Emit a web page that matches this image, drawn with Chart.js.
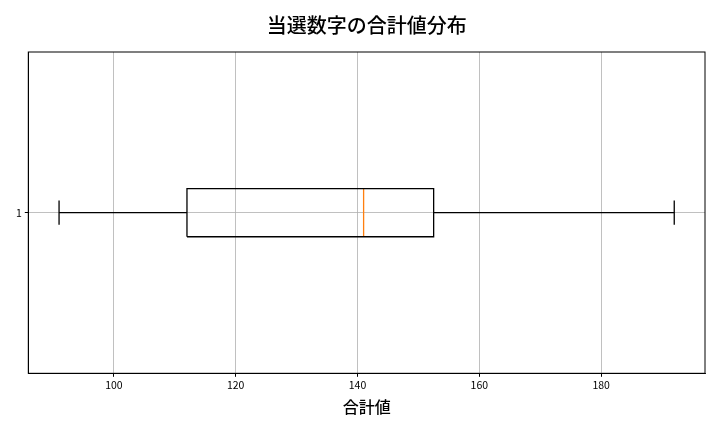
<!DOCTYPE html>
<html lang="ja">
<head>
<meta charset="utf-8">
<title>当選数字の合計値分布</title>
<script src="https://cdn.jsdelivr.net/npm/chart.js@4/dist/chart.umd.min.js"></script>
<style>
  html, body { margin: 0; padding: 0; background: #fff; }
  #wrap { width: 720px; height: 432px; }
</style>
</head>
<body>
<div id="wrap"><canvas id="box-chart" width="720" height="432"></canvas></div>
<script>
// boxplot summary
const CATEGORIES = [1];
const WHISKER_LOW = [91];
const Q1 = [112];
const MEDIAN = [141];
const Q3 = [152.5];
const WHISKER_HIGH = [192];
const X_TICKS = [100, 120, 140, 160, 180];
const Y_TICKS = [1];

const FONT = "'Noto Sans CJK JP', 'Noto Sans', sans-serif";
const BOX_HALF = 0.075;
const CAP_HALF = 0.0375;

function lineSet(points, color) {
  return {
    data: points,
    showLine: true,
    borderColor: color,
    borderWidth: 1.3,
    pointRadius: 0,
    spanGaps: false,
    fill: false,
  };
}

const boxPts = [];
const medianPts = [];
const whiskerPts = [];
const capPts = [];
CATEGORIES.forEach((c, i) => {
  boxPts.push(
    { x: Q1[i], y: c - BOX_HALF }, { x: Q3[i], y: c - BOX_HALF },
    { x: Q3[i], y: c + BOX_HALF }, { x: Q1[i], y: c + BOX_HALF },
    { x: Q1[i], y: c - BOX_HALF }, { x: null, y: null }
  );
  medianPts.push({ x: MEDIAN[i], y: c - BOX_HALF }, { x: MEDIAN[i], y: c + BOX_HALF }, { x: null, y: null });
  whiskerPts.push(
    { x: WHISKER_LOW[i], y: c }, { x: Q1[i], y: c }, { x: null, y: null },
    { x: Q3[i], y: c }, { x: WHISKER_HIGH[i], y: c }, { x: null, y: null }
  );
  capPts.push(
    { x: WHISKER_LOW[i], y: c - CAP_HALF }, { x: WHISKER_LOW[i], y: c + CAP_HALF }, { x: null, y: null },
    { x: WHISKER_HIGH[i], y: c - CAP_HALF }, { x: WHISKER_HIGH[i], y: c + CAP_HALF }, { x: null, y: null }
  );
});

const lo = Math.min(...WHISKER_LOW);
const hi = Math.max(...WHISKER_HIGH);
const margin = (hi - lo) * 0.05;

// frame round the plot area, and title centred over it (matplotlib style)
const framePlugin = {
  id: "frame",
  afterLayout(chart) {
    if (chart.titleBlock) {
      chart.titleBlock.left = chart.chartArea.left;
      chart.titleBlock.right = chart.chartArea.right;
    }
  },
  afterDatasetsDraw(chart) {
    const { ctx, chartArea: a } = chart;
    ctx.save();
    ctx.strokeStyle = "#000";
    ctx.lineWidth = 1;
    ctx.strokeRect(a.left, a.top, a.right - a.left, a.bottom - a.top);
    ctx.restore();
  },
};

new Chart(document.getElementById("box-chart"), {
  type: "scatter",
  data: {
    datasets: [
      lineSet(whiskerPts, "#000"),
      lineSet(capPts, "#000"),
      lineSet(boxPts, "#000"),
      lineSet(medianPts, "#ff7f0e"),
    ],
  },
  options: {
    responsive: false,
    animation: false,
    devicePixelRatio: 1,
    layout: { padding: { left: 0, right: 15, top: 0, bottom: 0 } },
    plugins: {
      legend: { display: false },
      tooltip: { enabled: false },
      title: {
        display: true,
        text: "当選数字の合計値分布",
        color: "#000",
        font: { family: FONT, size: 20, weight: 500, lineHeight: 1.2 },
        padding: { top: 13, bottom: 15 },
      },
    },
    scales: {
      x: {
        type: "linear",
        min: lo - margin,
        max: hi + margin,
        afterBuildTicks: (axis) => { axis.ticks = X_TICKS.map((v) => ({ value: v })); },
        afterFit: (axis) => { axis.height = 58.7; },
        ticks: { color: "#000", font: { family: FONT, size: 10.5 }, padding: 2, maxRotation: 0 },
        grid: { color: "#b0b0b0", lineWidth: 0.8, tickColor: "#000", tickLength: 3.5, tickWidth: 1 },
        border: { color: "#000", width: 1 },
        title: {
          display: true,
          text: "合計値",
          color: "#000",
          font: { family: FONT, size: 16, weight: 500, lineHeight: 1.2 },
          padding: { top: 0, bottom: 15.4 },
        },
      },
      y: {
        type: "linear",
        min: 0.5,
        max: 1.5,
        afterBuildTicks: (axis) => { axis.ticks = Y_TICKS.map((v) => ({ value: v })); },
        afterFit: (axis) => { axis.width = 28.3; },
        ticks: { color: "#000", font: { family: FONT, size: 10.5 }, padding: 3 },
        grid: { color: "#b0b0b0", lineWidth: 0.8, tickColor: "#000", tickLength: 3.5, tickWidth: 1 },
        border: { color: "#000", width: 1 },
      },
    },
  },
  plugins: [framePlugin],
});
</script>
</body>
</html>
